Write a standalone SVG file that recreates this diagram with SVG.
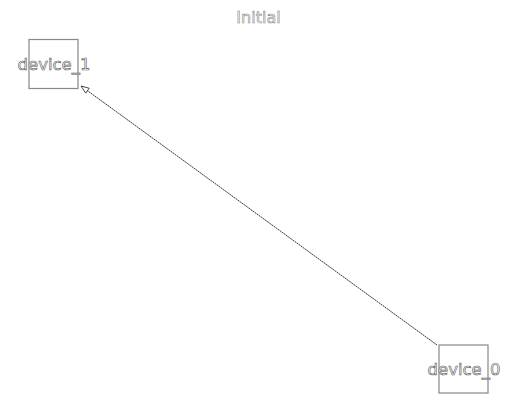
<svg xmlns="http://www.w3.org/2000/svg" width="516" height="411" viewBox="0 0 516 411">
<style>
.box{fill:#fff;stroke:#888;stroke-width:1.2}
.lbl{font-family:"DejaVu Sans",sans-serif;font-size:16.5px;fill:#fff;stroke:#555;stroke-width:0.6;text-anchor:middle;dominant-baseline:central}
.title{font-family:"DejaVu Sans",sans-serif;font-size:16px;fill:#fff;stroke:#888;stroke-width:0.6;text-anchor:middle}
.edge{stroke:#222;stroke-width:0.9;stroke-dasharray:2 0.6;fill:none}
</style>
<defs>
<marker id="ah" markerWidth="10" markerHeight="8" refX="9" refY="4" orient="auto" markerUnits="userSpaceOnUse">
<path d="M1,1 L9,4 L1,7 Z" fill="#fff" stroke="#333" stroke-width="0.8"/>
</marker>
</defs>
<rect width="516" height="411" fill="#fff"/>
<text class="title" x="258.5" y="23">Initial</text>
<g id="connectors">
<line class="edge" x1="437" y1="345" x2="81" y2="86" marker-end="url(#ah)"/>
</g>
<g id="device_1">
<rect class="box" x="29" y="39.5" width="49" height="49"/>
<text class="lbl" x="54" y="64">device_1</text>
</g>
<g id="device_0">
<rect class="box" x="439" y="345" width="49" height="48"/>
<text class="lbl" x="464" y="369">device_0</text>
</g>
</svg>
